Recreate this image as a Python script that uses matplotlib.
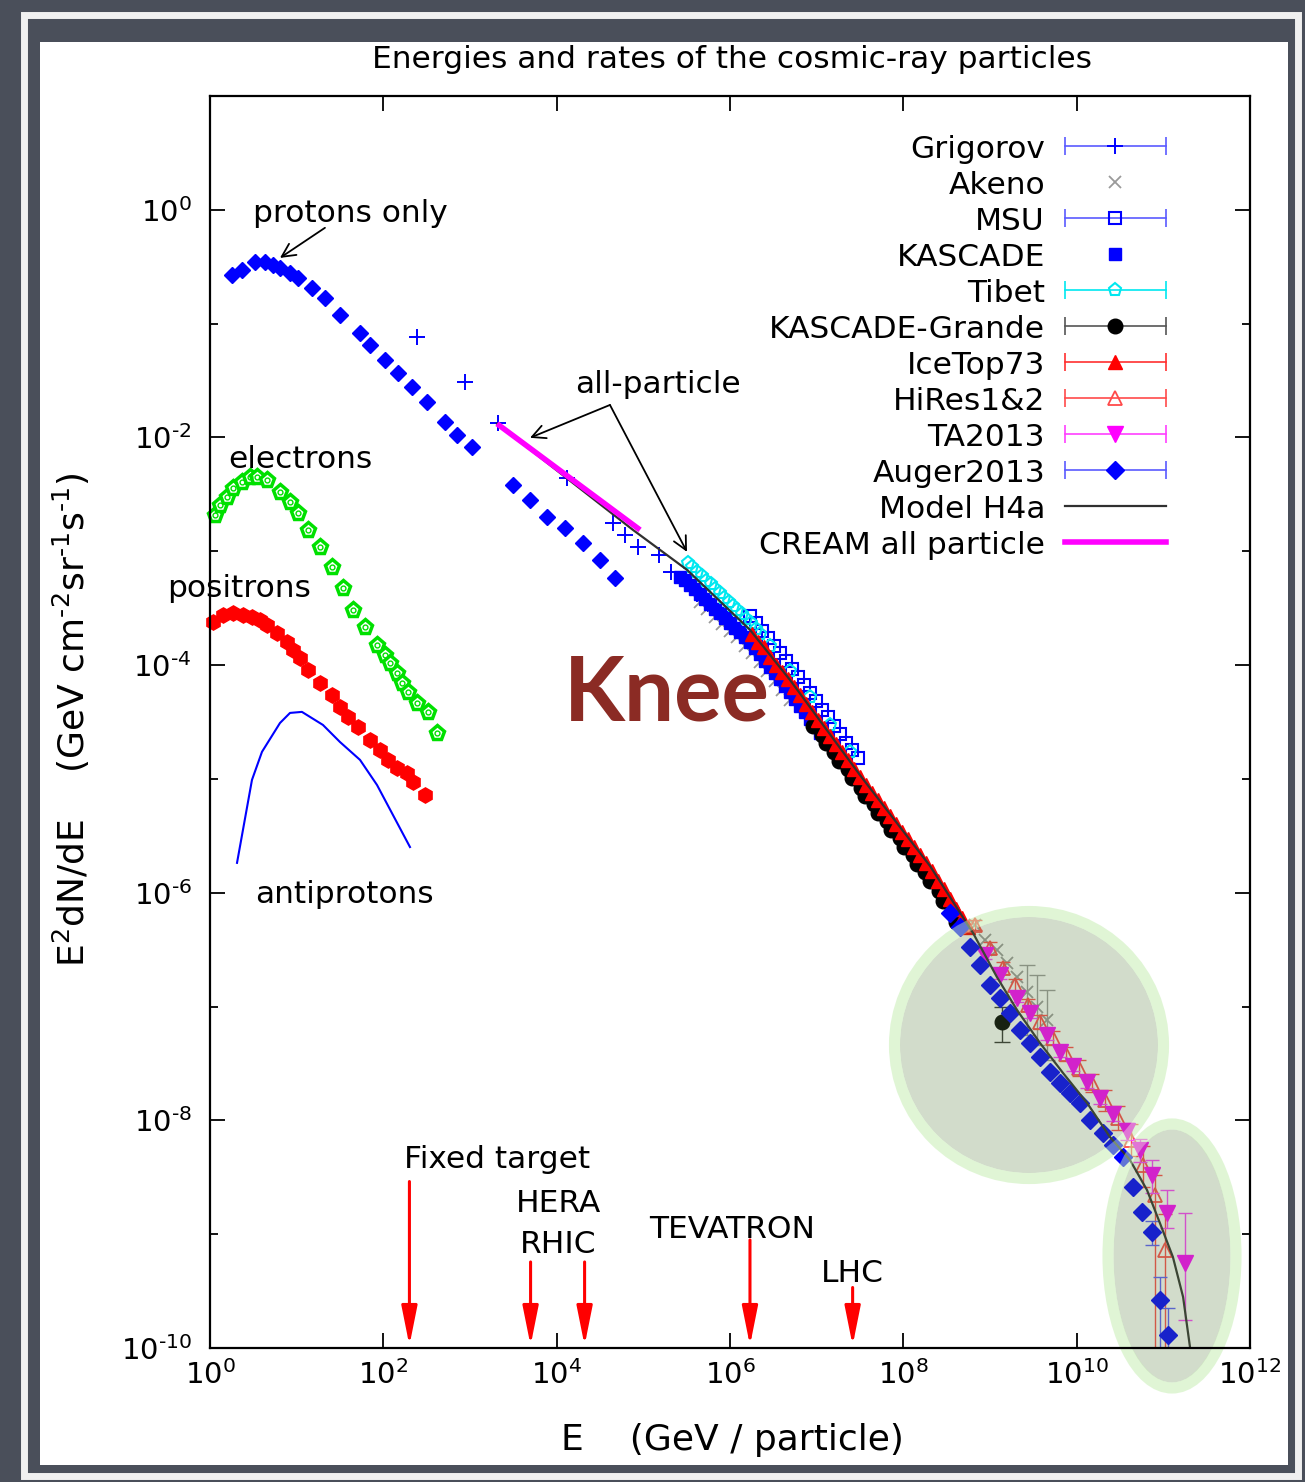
import matplotlib
matplotlib.use('Agg')
import matplotlib.pyplot as plt
from matplotlib.patches import Ellipse, Rectangle
from matplotlib.ticker import NullFormatter, NullLocator

plt.rcParams['font.family'] = 'DejaVu Sans'
plt.rcParams['mathtext.default'] = 'regular'

# ── COLORS ───────────────────────────────────────────────────
BG      = '#4a4f5a'
BLUE    = '#0000ff'
LBLUE   = '#5a5aff'
CYAN    = '#00e8f0'
RED     = '#ff0000'
LRED    = '#ff4a4a'
MAGENTA = '#ff00ff'
GREEN   = '#00e000'
GRAY    = '#9a9a9a'
KNEE    = '#8b2b24'

# ── DATA (E in GeV, E^2 dN/dE) ───────────────────────────────
protons_E = [1.79, 2.34, 3.31, 4.31, 5.33, 6.42, 8.38, 10.4, 15.0, 21.2, 31.6, 53.8,
             70.2, 104, 148, 214, 319, 515, 708, 1050,
             3130, 4920, 7730, 12500, 20100, 31600, 47100]
protons_Y = [0.268, 0.297, 0.349, 0.349, 0.329, 0.309, 0.279, 0.253, 0.206, 0.169, 0.119, 0.083,
             0.065, 0.048, 0.037, 0.0279, 0.0206, 0.0137, 0.0105, 0.0083,
             0.00383, 0.00283, 0.00200, 0.00161, 0.00119, 0.00084, 0.00058]

electrons_E = [1.14, 1.30, 1.57, 1.84, 2.34, 2.90, 3.48, 4.55, 6.43, 8.38, 10.4, 13.5, 18.6,
               25.6, 34.3, 44.7, 61.4, 84.5, 104, 119, 144, 164, 193, 244, 327, 416]
electrons_Y = [2.09e-3, 2.56e-3, 3.01e-3, 3.61e-3, 4.07e-3, 4.51e-3, 4.51e-3, 4.24e-3, 3.33e-3,
               2.72e-3, 2.17e-3, 1.54e-3, 1.09e-3, 7.29e-4, 4.76e-4, 3.05e-4, 2.17e-4, 1.51e-4,
               1.23e-4, 1.04e-4, 8.53e-5, 6.98e-5, 5.81e-5, 4.66e-5, 3.88e-5, 2.54e-5]

positrons_E = [1.08, 1.41, 1.84, 2.40, 3.05, 3.78, 4.55, 5.93, 7.73, 9.07, 10.9, 13.5,
               18.6, 25.6, 31.6, 39.1, 51.0, 70.2, 91.6, 113, 144, 188, 220, 303]
positrons_Y = [2.40e-4, 2.76e-4, 2.88e-4, 2.76e-4, 2.65e-4, 2.50e-4, 2.26e-4, 1.92e-4,
               1.60e-4, 1.36e-4, 1.16e-4, 9.08e-5, 6.98e-5, 5.47e-5, 4.30e-5, 3.51e-5,
               2.86e-5, 2.20e-5, 1.80e-5, 1.47e-5, 1.25e-5, 1.13e-5, 9.42e-6, 7.23e-6]

antiprotons_E = [2.05, 3.05, 3.98, 6.42, 8.38, 11.5, 20.1, 31.6, 53.8, 84.5, 203]
antiprotons_Y = [1.83e-6, 9.8e-6, 1.73e-5, 3.10e-5, 3.80e-5, 3.88e-5, 2.98e-5, 2.11e-5,
                 1.47e-5, 8.85e-6, 2.52e-6]

grigorov_E = [245, 875, 2100, 1.3e4, 4.5e4, 6.1e4, 8.7e4, 1.5e5, 2.1e5, 3.0e5, 4.2e5,
              5.6e5, 7.7e5, 1.05e6, 1.45e6]
grigorov_Y = [0.077, 0.031, 0.0134, 4.4e-3, 1.78e-3, 1.39e-3, 1.09e-3, 9.3e-4, 6.6e-4,
              5.3e-4, 4.2e-4, 3.45e-4, 2.9e-4, 2.3e-4, 1.8e-4]

akeno_E = [4.51e5, 5.43e5, 6.71e5, 8.09e5, 1.0e6, 1.20e6, 1.49e6, 1.79e6, 2.22e6, 2.67e6,
           3.30e6, 3.98e6, 4.92e6,
           6.71e8, 8.75e8, 1.20e9, 1.57e9, 2.05e9, 2.67e9, 3.48e9, 4.54e9]
akeno_Y = [3.59e-4, 3.08e-4, 2.65e-4, 2.31e-4, 2.0e-4, 1.75e-4, 1.47e-4, 1.29e-4, 1.06e-4,
           8.89e-5, 7.27e-5, 6.05e-5, 4.94e-5,
           5.21e-7, 3.85e-7, 3.14e-7, 2.41e-7, 1.82e-7, 1.34e-7, 9.91e-8, 7.62e-8]
akeno_bar_E  = [2.67e9, 3.48e9, 4.54e9]
akeno_bar_Y  = [1.34e-7, 9.91e-8, 7.62e-8]
akeno_bar_lo = [5.6e-8, 4.6e-8, 3.4e-8]
akeno_bar_hi = [2.32e-7, 1.9e-7, 1.4e-7]

msu_E = [1.70e6, 2.0e6, 2.34e6, 2.74e6, 3.22e6, 3.78e6, 4.43e6, 5.19e6, 6.09e6, 7.14e6,
         8.37e6, 9.82e6, 1.15e7, 1.35e7, 1.58e7, 1.86e7, 2.18e7, 2.56e7, 3.0e7]
msu_Y = [2.71e-4, 2.32e-4, 2.0e-4, 1.72e-4, 1.47e-4, 1.27e-4, 1.09e-4, 9.31e-5, 7.88e-5,
         6.71e-5, 5.70e-5, 4.83e-5, 4.04e-5, 3.47e-5, 2.92e-5, 2.48e-5, 2.07e-5, 1.80e-5, 1.53e-5]

kascade_E = [2.65e5, 3.03e5, 3.45e5, 3.94e5, 4.51e5, 5.14e5, 5.87e5, 6.71e5, 7.67e5, 8.75e5,
             1.0e6, 1.14e6, 1.30e6, 1.49e6, 1.70e6, 1.94e6, 2.22e6, 2.53e6, 2.89e6, 3.30e6,
             3.78e6, 4.31e6, 4.92e6, 5.62e6, 6.41e6, 7.33e6, 8.37e6, 9.55e6, 1.09e7]
kascade_Y = [5.96e-4, 5.55e-4, 5.07e-4, 4.62e-4, 4.22e-4, 3.82e-4, 3.45e-4, 3.12e-4, 2.88e-4,
             2.60e-4, 2.35e-4, 2.12e-4, 1.96e-4, 1.77e-4, 1.60e-4, 1.42e-4, 1.24e-4, 1.09e-4,
             9.64e-5, 8.53e-5, 7.48e-5, 6.56e-5, 5.81e-5, 5.05e-5, 4.41e-5, 3.88e-5, 3.37e-5,
             2.92e-5, 2.54e-5]

tibet_E = [3.3e5, 3.69e5, 4.2e5, 4.69e5, 5.3e5, 5.96e5, 6.7e5, 7.57e5, 8.5e5, 9.61e5,
           1.08e6, 1.22e6, 1.37e6, 1.55e6, 1.75e6, 1.97e6, 2.2e6, 2.9e6,
           4.9e6, 8.4e6, 1.43e7, 2.4e7]
tibet_Y = [7.9e-4, 7.23e-4, 6.6e-4, 6.08e-4, 5.5e-4, 5.11e-4, 4.7e-4, 4.30e-4, 3.9e-4, 3.61e-4,
           3.3e-4, 3.03e-4, 2.8e-4, 2.56e-4, 2.35e-4, 2.08e-4, 1.88e-4, 1.48e-4,
           8.9e-5, 5.2e-5, 3.0e-5, 1.73e-5]

kgrande_E = [9.08e6, 1.14e7, 1.28e7, 1.60e7, 1.81e7, 2.27e7, 2.56e7, 3.21e7, 3.62e7, 4.53e7,
             5.11e7, 6.40e7, 7.22e7, 9.04e7, 1.02e8, 1.28e8, 1.44e8, 1.80e8, 2.03e8, 2.55e8,
             2.87e8, 3.60e8, 4.05e8]
kgrande_Y = [2.92e-5, 2.44e-5, 2.07e-5, 1.73e-5, 1.44e-5, 1.21e-5, 1.01e-5, 8.39e-6, 7.10e-6,
             5.96e-6, 5.03e-6, 4.23e-6, 3.56e-6, 3.01e-6, 2.52e-6, 2.15e-6, 1.80e-6, 1.52e-6,
             1.27e-6, 1.04e-6, 8.47e-7, 6.85e-7, 5.54e-7]
kgrande_bar_E  = [1.37e9]
kgrande_bar_Y  = [7.33e-8]
kgrande_bar_lo = [4.89e-8]
kgrande_bar_hi = [9.91e-8]

icetop_E = [1.79e6, 2.10e6, 2.47e6, 2.89e6, 3.40e6, 3.98e6, 4.67e6, 5.47e6, 6.41e6, 7.53e6,
            8.83e6, 1.04e7, 1.22e7, 1.43e7, 1.67e7, 1.96e7, 2.30e7, 2.70e7, 3.16e7, 3.71e7,
            4.35e7, 5.11e7, 5.98e7, 7.02e7, 8.23e7, 9.66e7, 1.13e8, 1.33e8, 1.56e8, 1.83e8,
            2.14e8, 2.51e8, 2.94e8, 3.45e8, 4.05e8, 4.74e8, 5.57e8]
icetop_Y = [1.86e-4, 1.60e-4, 1.45e-4, 1.18e-4, 1.01e-4, 8.71e-5, 7.48e-5, 6.37e-5, 5.41e-5,
            4.56e-5, 3.88e-5, 3.30e-5, 2.78e-5, 2.39e-5, 2.03e-5, 1.71e-5, 1.47e-5, 1.23e-5,
            1.04e-5, 8.89e-6, 7.59e-6, 6.49e-6, 5.56e-6, 4.73e-6, 4.02e-6, 3.45e-6, 2.97e-6,
            2.52e-6, 2.15e-6, 1.83e-6, 1.56e-6, 1.28e-6, 1.07e-6, 8.83e-7, 7.26e-7, 6.01e-7, 5.0e-7]

hires_E  = [6.71e8, 1.0e9, 1.41e9, 1.94e9, 2.74e9, 3.77e9, 5.33e9, 7.53e9, 1.06e10, 1.50e10,
            2.12e10, 3.0e10, 4.24e10, 5.82e10, 8.0e10, 1.04e11]
hires_Y  = [5.21e-7, 3.27e-7, 2.18e-7, 1.55e-7, 1.03e-7, 7.33e-8, 5.30e-8, 3.83e-8, 2.88e-8,
            2.13e-8, 1.51e-8, 1.05e-8, 6.73e-9, 4.06e-9, 2.21e-9, 7.26e-10]
hires_lo = [4.7e-7, 2.9e-7, 1.95e-7, 1.38e-7, 9.1e-8, 6.4e-8, 4.6e-8, 3.3e-8, 2.45e-8,
            1.78e-8, 1.22e-8, 8.2e-9, 4.9e-9, 2.6e-9, 1.0e-10, 1.0e-10]
hires_hi = [5.8e-7, 3.7e-7, 2.45e-7, 1.74e-7, 1.17e-7, 8.4e-8, 6.1e-8, 4.45e-8, 3.4e-8,
            2.55e-8, 1.85e-8, 1.35e-8, 9.2e-9, 6.0e-9, 3.3e-9, 1.5e-9]

ta_E  = [8.75e8, 1.30e9, 2.05e9, 2.89e9, 4.54e9, 6.41e9, 9.06e9, 1.32e10, 1.86e10, 2.62e10,
         3.80e10, 5.37e10, 7.39e10, 1.10e11, 1.78e11]
ta_Y  = [2.84e-7, 1.90e-7, 1.19e-7, 8.79e-8, 5.63e-8, 3.99e-8, 3.01e-8, 2.17e-8, 1.57e-8,
         1.14e-8, 8.07e-9, 5.50e-9, 3.31e-9, 1.54e-9, 5.58e-10]
ta_lo = [2.6e-7, 1.74e-7, 1.09e-7, 8.0e-8, 5.1e-8, 3.6e-8, 2.7e-8, 1.93e-8, 1.38e-8,
         9.8e-9, 6.7e-9, 4.3e-9, 2.3e-9, 1.14e-9, 1.76e-10]
ta_hi = [3.1e-7, 2.07e-7, 1.30e-7, 9.6e-8, 6.2e-8, 4.4e-8, 3.35e-8, 2.42e-8, 1.77e-8,
         1.3e-8, 9.5e-9, 6.8e-9, 4.5e-9, 2.46e-9, 1.54e-9]

auger_E = [3.45e8, 4.50e8, 5.87e8, 7.66e8, 1.0e9, 1.30e9, 1.70e9, 2.22e9, 2.89e9, 3.77e9,
           4.92e9, 6.41e9, 8.37e9, 1.09e10, 1.42e10, 2.01e10, 2.62e10, 3.42e10, 4.47e10,
           5.67e10, 7.39e10, 9.14e10, 1.13e11]
auger_Y = [6.64e-7, 5.0e-7, 3.34e-7, 2.32e-7, 1.55e-7, 1.19e-7, 8.79e-8, 6.23e-8, 4.79e-8,
           3.61e-8, 2.66e-8, 2.13e-8, 1.74e-8, 1.42e-8, 1.01e-8, 7.76e-9, 6.08e-9, 4.76e-9,
           2.60e-9, 1.57e-9, 1.04e-9, 2.64e-10, 1.30e-10]
auger_bar_E  = [7.39e10, 9.14e10, 1.13e11]
auger_bar_Y  = [1.04e-9, 2.64e-10, 1.30e-10]
auger_bar_lo = [8.0e-10, 1.0e-10, 1.0e-10]
auger_bar_hi = [1.3e-9, 4.2e-10, 2.25e-10]

cream_E = [2.05e3, 9.16e4]
cream_Y = [1.32e-2, 1.54e-3]

h4a_E = [2.05e3, 7.60e4, 3.19e5, 1.70e6, 4.92e6, 3.16e7, 2.03e8, 6.37e8, 1.20e9, 2.05e9,
         3.77e9, 6.95e9, 1.32e10, 2.42e10, 4.12e10, 6.47e10, 9.14e10, 1.29e11, 1.69e11, 2.03e11]
h4a_Y = [1.32e-2, 1.54e-3, 6.87e-4, 2.04e-4, 7.41e-5, 1.08e-5, 1.72e-6, 4.43e-7, 1.82e-7,
         9.33e-8, 4.79e-8, 2.61e-8, 1.42e-8, 7.15e-9, 4.49e-9, 2.45e-9, 1.25e-9, 6.30e-10,
         2.81e-10, 1.02e-10]

# accelerator energies (fixed-target equivalent) and arrow tops
acc_E   = [200, 5.0e3, 2.1e4, 1.7e6, 2.6e7]
acc_top = [2.9e-9, 5.7e-10, 5.7e-10, 8.9e-10, 3.4e-10]
acc_labels   = ['Fixed target', 'HERA', 'RHIC', 'TEVATRON', 'LHC']
acc_label_E  = [2.05e3, 1.04e4, 1.04e4, 1.05e6, 2.56e7]
acc_label_Y  = [3.82e-9, 1.57e-9, 6.84e-10, 9.27e-10, 3.80e-10]

HY = '\u2010'   # short hyphen, as in the original superscripts
x_ticks = [1e0, 1e2, 1e4, 1e6, 1e8, 1e10, 1e12]
x_tick_labels = ['$10^{0}$', '$10^{2}$', '$10^{4}$', '$10^{6}$', '$10^{8}$', '$10^{10}$', '$10^{12}$']
y_ticks = [1e-10, 1e-8, 1e-6, 1e-4, 1e-2, 1e0]
y_tick_labels = ['$10^{%s10}$' % HY, '$10^{%s8}$' % HY, '$10^{%s6}$' % HY,
                 '$10^{%s4}$' % HY, '$10^{%s2}$' % HY, '$10^{0}$']
y_minor = [1e-9, 1e-7, 1e-5, 1e-3, 1e-1, 1e1]

legend_names = ['Grigorov', 'Akeno', 'MSU', 'KASCADE', 'Tibet', 'KASCADE-Grande',
                'IceTop73', 'HiRes1&2', 'TA2013', 'Auger2013', 'Model H4a', 'CREAM all particle']

STY = {
    'Grigorov':       dict(marker='+', color=BLUE, ms=11, mew=1.4, ls='none'),
    'Akeno':          dict(marker='x', color=GRAY, ms=8, mew=1.3, ls='none'),
    'MSU':            dict(marker='s', color=BLUE, mfc='none', ms=8.5, mew=1.5, ls='none'),
    'KASCADE':        dict(marker='s', color=BLUE, ms=8.5, ls='none'),
    'Tibet':          dict(marker='p', color=CYAN, mfc='none', ms=9.5, mew=1.5, ls='none'),
    'KASCADE-Grande': dict(marker='o', color='black', ms=10.5, ls='none'),
    'IceTop73':       dict(marker='^', color=RED, ms=9.5, ls='none'),
    'HiRes1&2':       dict(marker='^', color=LRED, mfc='none', ms=10, mew=1.3, ls='none'),
    'TA2013':         dict(marker='v', color=MAGENTA, ms=11, ls='none'),
    'Auger2013':      dict(marker='D', color=BLUE, ms=9, ls='none'),
    'Model H4a':      dict(color='#303030', lw=1.6),
    'CREAM all particle': dict(color=MAGENTA, lw=4),
}
BAR = {'Grigorov': LBLUE, 'MSU': LBLUE, 'Tibet': CYAN, 'KASCADE-Grande': '#555555',
       'IceTop73': '#ff3030', 'HiRes1&2': LRED, 'TA2013': '#ff40ff', 'Auger2013': LBLUE}

FS = 22.5


def yerr(vals, lo, hi):
    return [[v - l for v, l in zip(vals, lo)], [h - v for v, h in zip(vals, hi)]]


# ── FIGURE ───────────────────────────────────────────────────
W, H = 1305, 1482
fig = plt.figure(figsize=(W / 100, H / 100), dpi=100, facecolor=BG)
fig.add_artist(Rectangle((40 / W, 1 - 1465 / H), 1248 / W, 1423 / H,
                         transform=fig.transFigure, facecolor='white',
                         edgecolor='none', zorder=-10))
fig.add_artist(Rectangle((24 / W, 1 - 1476 / H), 1274 / W, 1461 / H,
                         transform=fig.transFigure, fill=False,
                         edgecolor='#f0f0f0', lw=5, zorder=-9))

ax = fig.add_axes([210 / W, 1 - 1348 / H, 1040 / W, 1252 / H])
ax.set_xscale('log')
ax.set_yscale('log')
ax.set_xlim(1, 1e12)
ax.set_ylim(1e-10, 10)

ax.set_xticks(x_ticks)
ax.set_xticklabels(x_tick_labels)
ax.xaxis.set_minor_locator(NullLocator())
ax.set_yticks(y_ticks)
ax.set_yticklabels(y_tick_labels)
ax.set_yticks(y_minor, minor=True)
ax.yaxis.set_minor_formatter(NullFormatter())
ax.tick_params(which='both', direction='in', top=True, right=True, width=1.3, colors='black')
ax.tick_params(which='major', length=11, labelsize=21)
ax.tick_params(which='minor', length=6)
ax.tick_params(axis='x', pad=9)
ax.tick_params(axis='y', pad=13)
for sp in ax.spines.values():
    sp.set_linewidth(1.6)
    sp.set_zorder(6)
ax.xaxis.set_zorder(6)
ax.yaxis.set_zorder(6)

# ── LOW-ENERGY SPECIES ───────────────────────────────────────
ax.plot(protons_E, protons_Y, 'D', color=BLUE, ms=8, clip_on=False, zorder=3)
ax.plot(electrons_E, electrons_Y, 'p', mfc='white', mec=GREEN, mew=2.5, ms=11,
        clip_on=False, zorder=3)
ax.plot(electrons_E, electrons_Y, 'o', mfc='none', mec=GREEN, mew=1, ms=3.5,
        clip_on=False, zorder=3)
ax.plot(positrons_E, positrons_Y, 'h', color=RED, ms=11, clip_on=False, zorder=3)
ax.plot(antiprotons_E, antiprotons_Y, color=BLUE, lw=1.5, zorder=3)

# ── ALL-PARTICLE DATA ────────────────────────────────────────
ax.plot(grigorov_E, grigorov_Y, zorder=3, clip_on=False, **STY['Grigorov'])
ax.plot(akeno_E, akeno_Y, zorder=3, **STY['Akeno'])
ax.errorbar(akeno_bar_E, akeno_bar_Y, yerr=yerr(akeno_bar_Y, akeno_bar_lo, akeno_bar_hi),
            fmt='none', ecolor=GRAY, elinewidth=1, capsize=6, zorder=3)
ax.plot(msu_E, msu_Y, zorder=3, **STY['MSU'])
ax.plot(kascade_E, kascade_Y, zorder=3, **STY['KASCADE'])
ax.plot(tibet_E, tibet_Y, zorder=3, **STY['Tibet'])
ax.plot(kgrande_E, kgrande_Y, zorder=3, **STY['KASCADE-Grande'])
ax.errorbar(kgrande_bar_E, kgrande_bar_Y,
            yerr=yerr(kgrande_bar_Y, kgrande_bar_lo, kgrande_bar_hi),
            fmt='none', ecolor='#333333', elinewidth=1, capsize=6, zorder=3)
ax.plot(kgrande_bar_E, kgrande_bar_Y, zorder=3, **STY['KASCADE-Grande'])
ax.plot(icetop_E, icetop_Y, zorder=3, **STY['IceTop73'])
ax.errorbar(hires_E, hires_Y, yerr=yerr(hires_Y, hires_lo, hires_hi),
            fmt='none', ecolor=LRED, elinewidth=1, capsize=5, zorder=3)
ax.plot(hires_E, hires_Y, zorder=3, **STY['HiRes1&2'])
ax.errorbar(ta_E, ta_Y, yerr=yerr(ta_Y, ta_lo, ta_hi),
            fmt='none', ecolor='#ff40ff', elinewidth=1, capsize=5, zorder=3)
ax.plot(ta_E, ta_Y, zorder=3, **STY['TA2013'])
ax.errorbar(auger_bar_E, auger_bar_Y, yerr=yerr(auger_bar_Y, auger_bar_lo, auger_bar_hi),
            fmt='none', ecolor=LBLUE, elinewidth=1, capsize=5, zorder=3)
ax.plot(auger_E, auger_Y, zorder=3, clip_on=False, **STY['Auger2013'])
ax.plot(h4a_E, h4a_Y, zorder=3.5, **STY['Model H4a'])
ax.plot(cream_E, cream_Y, zorder=3.5, solid_capstyle='butt', **STY['CREAM all particle'])

# ── LEGEND (gnuplot-like key, right aligned text) ────────────
x_txt, x_l, x_r, x_m = 0.803, 0.822, 0.919, 0.8702
for i, name in enumerate(legend_names):
    yy = 0.9601 - i * 0.02875
    ax.text(x_txt, yy - 0.0096, name, transform=ax.transAxes, ha='right',
            va='baseline', fontsize=FS)
    if name in BAR:
        ax.plot([x_l, x_r], [yy, yy], transform=ax.transAxes, color=BAR[name], lw=1.2)
        ax.plot([x_l, x_r], [yy, yy], transform=ax.transAxes, ls='none', marker='|',
                ms=13, mew=1.2, color=BAR[name])
    if 'marker' in STY[name]:
        ax.plot([x_m], [yy], transform=ax.transAxes, **STY[name])
    else:
        ax.plot([x_l, x_r], [yy, yy], transform=ax.transAxes, **STY[name])

# ── ANNOTATIONS ──────────────────────────────────────────────
arrow_k = dict(arrowstyle='->', color='black', lw=1.3, mutation_scale=24,
               shrinkA=0, shrinkB=0)
ax.text(3.13, 0.785, 'protons only', fontsize=FS, va='baseline')
ax.annotate('', xy=(6.42, 0.378), xytext=(21.2, 0.695), arrowprops=arrow_k)
ax.text(1.61, 5.41e-3, 'electrons', fontsize=FS, va='baseline')
ax.text(0.319, 3.98e-4, 'positrons', fontsize=FS, va='baseline')
ax.text(3.31, 8.13e-7, 'antiprotons', fontsize=FS, va='baseline')
ax.text(1.63e4, 0.0247, 'all-particle', fontsize=FS, va='baseline')
ax.annotate('', xy=(4920, 9.93e-3), xytext=(4.12e4, 0.0193), arrowprops=arrow_k)
ax.annotate('', xy=(3.19e5, 9.88e-4), xytext=(4.12e4, 0.0193), arrowprops=arrow_k)
ax.text(1.88e5, 3.24e-5, 'Knee', fontsize=64, color=KNEE, family='Lato',
        fontweight='bold', ha='center', va='baseline', zorder=5)

for e, top in zip(acc_E, acc_top):
    ax.annotate('', xy=(e, 1.05e-10), xytext=(e, top),
                arrowprops=dict(arrowstyle='-|>,head_length=1.0,head_width=0.2',
                                color=RED, lw=2.2, mutation_scale=24,
                                shrinkA=0, shrinkB=0))
for lab, e, y in zip(acc_labels, acc_label_E, acc_label_Y):
    ax.text(e, y, lab, fontsize=FS, ha='center', va='baseline')

# ── HIGHLIGHT ELLIPSES (grey-green wash with a pale rim) ─────
ellipses = [(0.7875, 0.2420, 0.2481, 0.2045), (0.925, 0.0735, 0.1125, 0.2021)]
for cx, cy, w, h in ellipses:
    ax.add_patch(Ellipse((cx, cy), w, h, transform=ax.transAxes,
                         facecolor=(0.36, 0.50, 0.26, 0.27), edgecolor='none',
                         clip_on=False, zorder=4))
    ax.add_patch(Ellipse((cx, cy), w + 11 / 1040, h + 11 / 1252, transform=ax.transAxes,
                         fill=False, edgecolor=(0.76, 0.93, 0.68, 0.5), lw=8,
                         clip_on=False, zorder=4))

# ── TITLES ───────────────────────────────────────────────────
fig.text(732 / W, 1 - 68 / H, 'Energies and rates of the cosmic-ray particles',
         ha='center', va='baseline', fontsize=FS)
fig.text(732 / W, 1 - 1450 / H, 'E    (GeV / particle)', ha='center',
         va='baseline', fontsize=26)
fig.text(71 / W, 1 - 720 / H,
         'E$^2$dN/dE    (GeV cm$^{%s2}$sr$^{%s1}$s$^{%s1}$)' % (HY, HY, HY),
         rotation=90, ha='center', va='center', fontsize=26)

fig.savefig('out.png', dpi=100, facecolor=BG)
